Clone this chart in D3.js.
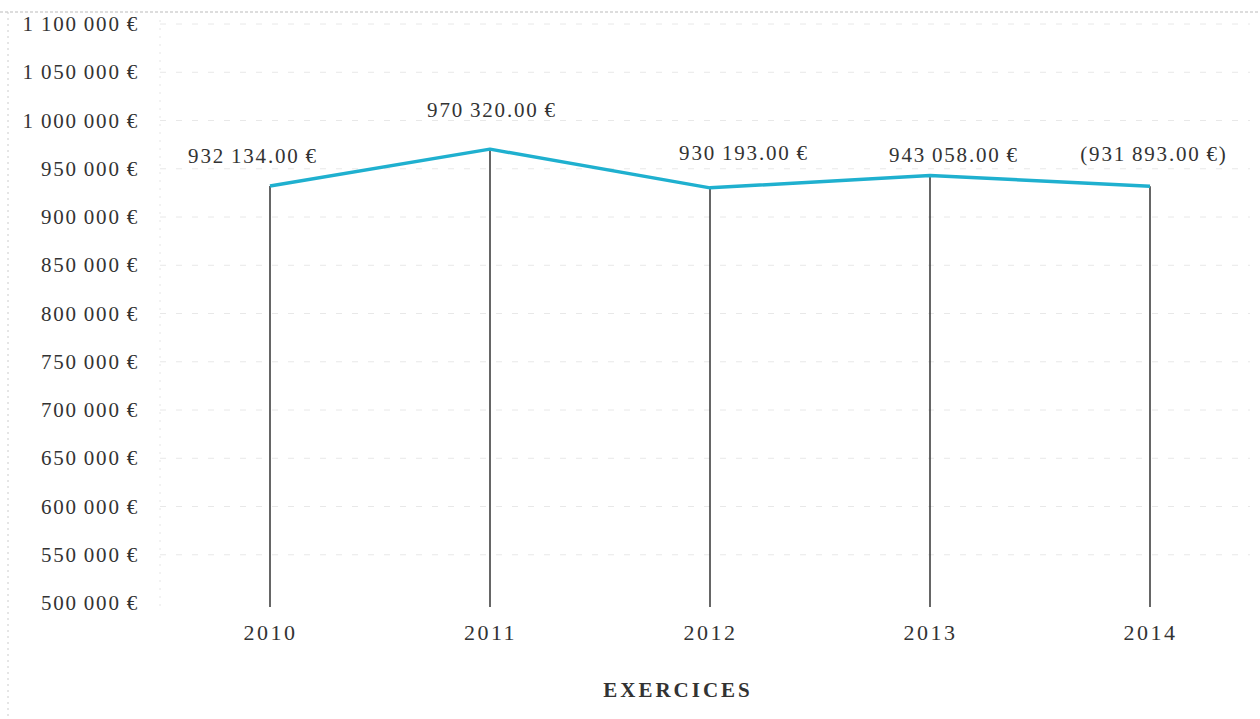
<!DOCTYPE html>
<html><head><meta charset="utf-8">
<script src="https://cdn.jsdelivr.net/npm/d3@7"></script>
<style>
html,body{margin:0;padding:0;background:#fff;}
svg{display:block;font-family:"Liberation Serif","DejaVu Serif",serif;}
</style></head>
<body>
<svg id="chart" width="1260" height="719"></svg>
<script>
const years = ["2010","2011","2012","2013","2014"];
const values = [932134, 970320, 930193, 943058, 931893];
const valueLabels = ["932\u2009134.00\u2009€","970\u2009320.00\u2009€","930\u2009193.00\u2009€","943\u2009058.00\u2009€","(931\u2009893.00\u2009€)"];
const yTicks = [500000,550000,600000,650000,700000,750000,800000,850000,900000,950000,1000000,1050000,1100000];
const xTitle = "EXERCICES";

const svg = d3.select("#chart");
const W = 1260, H = 719;
const x = d3.scalePoint().domain(years).range([160, 1260]).padding(0.5);
const y = d3.scaleLinear().domain([500000, 1100000]).range([603, 24]);

// scanned-page frame
svg.append("line").attr("x1",0).attr("x2",W).attr("y1",12).attr("y2",12)
  .attr("stroke","#bbb").attr("stroke-width",1.2).attr("stroke-dasharray","3,2");
svg.append("line").attr("x1",8).attr("x2",8).attr("y1",12).attr("y2",H)
  .attr("stroke","#ccc").attr("stroke-width",1).attr("stroke-dasharray","2,4");
svg.append("line").attr("x1",160).attr("x2",160).attr("y1",20).attr("y2",610)
  .attr("stroke","#e6e6e6").attr("stroke-width",1).attr("stroke-dasharray","2,6");

// gridlines
svg.append("g").selectAll("line").data(yTicks.slice(1)).join("line")
  .attr("x1",160).attr("x2",1250)
  .attr("y1",d=>y(d)).attr("y2",d=>y(d))
  .attr("stroke","#e8e8e8").attr("stroke-width",1).attr("stroke-dasharray","6,10");

const fmt = d3.formatLocale({decimal:".", thousands:"\u2009", grouping:[3], currency:["","\u2009€"]}).format("$,.0f");

// y axis
const yAxis = d3.axisLeft(y).tickValues(yTicks).tickSize(0).tickPadding(0).tickFormat(fmt);
const gy = svg.append("g").attr("transform","translate(139,0)").call(yAxis);
gy.select(".domain").remove();
gy.selectAll("text").attr("font-family","Liberation Serif, serif").attr("font-size",21)
  .attr("letter-spacing","1.8px").attr("fill","#333").attr("dy","0.32em");

// x axis
const xAxis = d3.axisBottom(x).tickSize(0).tickPadding(0);
const gx = svg.append("g").attr("transform","translate(0,632)").call(xAxis);
gx.select(".domain").remove();
gx.selectAll("text").attr("font-family","Liberation Serif, serif").attr("font-size",22)
  .attr("letter-spacing","2.5px").attr("fill","#333").attr("dy","0.35em");

// drop lines
svg.append("g").selectAll("line").data(values).join("line")
  .attr("x1",(d,i)=>x(years[i])).attr("x2",(d,i)=>x(years[i]))
  .attr("y1",d=>y(d)).attr("y2",y(500000)+4)
  .attr("stroke","#333").attr("stroke-width",1.5);

// line
const line = d3.line().x((d,i)=>x(years[i])).y(d=>y(d));
svg.append("path").datum(values).attr("d",line)
  .attr("fill","none").attr("stroke","#1fb0cf").attr("stroke-width",3.5)
  .attr("stroke-linejoin","round");

// value labels
const labelDx = [-17, 2, 34, 24, 4];
const labelDy = [-23, -32, -28, -13, -25];
svg.append("g").selectAll("text").data(values).join("text")
  .attr("x",(d,i)=>x(years[i])+labelDx[i])
  .attr("y",(d,i)=>y(d)+labelDy[i])
  .attr("text-anchor","middle")
  .attr("font-size",21).attr("letter-spacing","1.8px").attr("fill","#333")
  .text((d,i)=>valueLabels[i]);

// x title
svg.append("text").attr("x",678).attr("y",697).attr("text-anchor","middle")
  .attr("font-size",21).attr("font-weight","bold").attr("letter-spacing","3px")
  .attr("fill","#333").text(xTitle);
</script>
</body></html>
